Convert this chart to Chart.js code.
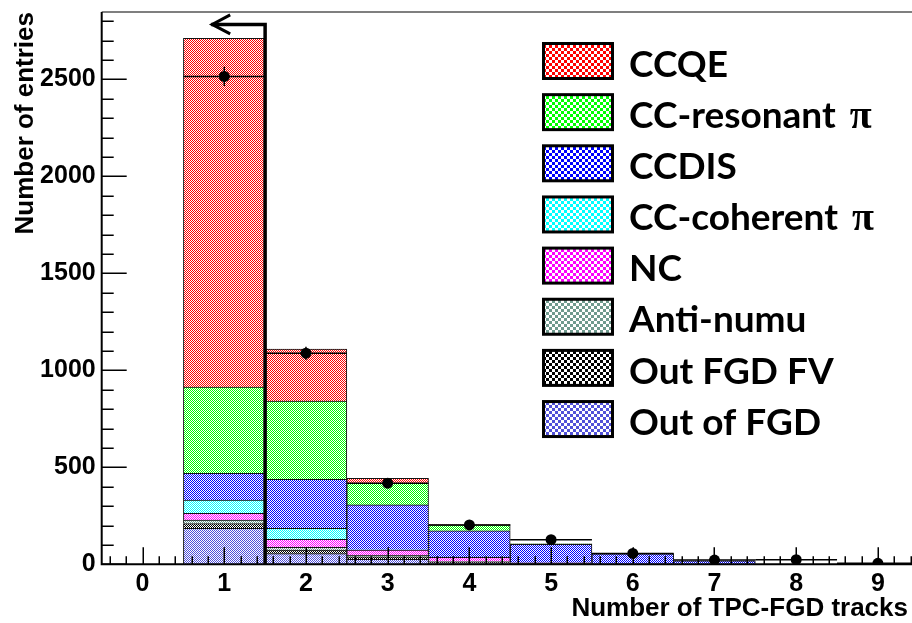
<!DOCTYPE html>
<html>
<head>
<meta charset="utf-8">
<script src="https://cdn.jsdelivr.net/npm/chart.js@4.4.1/dist/chart.umd.min.js"></script>
<style>
  html, body { margin: 0; padding: 0; background: #fff; overflow: hidden; }
  canvas { display: block; }
</style>
</head>
<body>
<canvas id="c" width="912" height="623"></canvas>
<script>
// Bin centres (number of TPC-FGD tracks)
const bins = [1, 2, 3, 4, 5, 6, 7, 8, 9];

// Stacked MC components, bottom of the stack first
const outOfFGD = [185, 55, 25, 8, 3, 1, 0, 0, 0];
const outFGDFV = [25, 18, 13, 4, 1, 0, 0, 0, 0];
const antiNumu = [18, 15, 8, 2, 0, 0, 0, 0, 0];
const ncEvents = [35, 41, 27, 22, 4, 1, 0, 0, 0];
const ccCoherent = [68, 57, 2, 1, 0, 0, 0, 0, 0];
const ccDis = [138, 252, 231, 136, 95, 52, 18, 0, 0];
const ccResonant = [445, 404, 112, 30, 2, 1, 0, 0, 0];
const ccqe = [1797, 268, 25, 2, 0, 0, 0, 0, 0];

// Data points and their errors
const dataCounts = [2515, 1088, 418, 203, 127, 56, 22, 24, 5];
const dataErrors = [50, 33, 20, 14, 11, 7, 5, 5, 2];

// Axis ticks
const xTickValues = [0, 1, 2, 3, 4, 5, 6, 7, 8, 9];
const xTickLabels = ['0', '1', '2', '3', '4', '5', '6', '7', '8', '9'];
const yTickValues = [0, 500, 1000, 1500, 2000, 2500];
const yTickLabels = ['0', '500', '1000', '1500', '2000', '2500'];

// Selection cut: keep events with one track
const cutValue = 1.5;
const cutArrowHeight = 2783;
const cutArrowEnd = 0.84;

// Legend order (top to bottom) and colours
const legendLabels = ['CCQE', 'CC-resonant \u03c0', 'CCDIS', 'CC-coherent \u03c0', 'NC', 'Anti-numu', 'Out FGD FV', 'Out of FGD'];
const legendColors = ['#ff0000', '#00ff00', '#0000ff', '#00ffff', '#ff00ff', '#6f9a8e', '#000000', '#5050d8'];

function checker(color, cell) {
  const c = document.createElement('canvas');
  c.width = c.height = cell * 2;
  const g = c.getContext('2d');
  g.fillStyle = '#ffffff';
  g.fillRect(0, 0, cell * 2, cell * 2);
  g.fillStyle = color;
  g.fillRect(0, 0, cell, cell);
  g.fillRect(cell, cell, cell, cell);
  return g.createPattern(c, 'repeat');
}

const stackSeries = [
  { label: 'Out of FGD', values: outOfFGD, color: '#5050d8' },
  { label: 'Out FGD FV', values: outFGDFV, color: '#000000' },
  { label: 'Anti-numu', values: antiNumu, color: '#6f9a8e' },
  { label: 'NC', values: ncEvents, color: '#ff00ff' },
  { label: 'CC-coherent \u03c0', values: ccCoherent, color: '#00ffff' },
  { label: 'CCDIS', values: ccDis, color: '#0000ff' },
  { label: 'CC-resonant \u03c0', values: ccResonant, color: '#00ff00' },
  { label: 'CCQE', values: ccqe, color: '#ff0000' }
];

const datasets = stackSeries.map(s => ({
  type: 'bar',
  label: s.label,
  data: bins.map((b, i) => ({ x: b, y: s.values[i] })),
  backgroundColor: checker(s.color, 1),
  borderColor: '#111',
  borderWidth: 1,
  barPercentage: 1,
  categoryPercentage: 1,
  stack: 'mc'
}));

datasets.push({
  type: 'scatter',
  label: 'Data',
  data: bins.map((b, i) => ({ x: b, y: dataCounts[i] })),
  pointRadius: 5.5,
  pointBackgroundColor: '#000',
  pointBorderWidth: 0,
  stack: 'data',
  order: -1
});

const tickFont = { family: 'Liberation Sans', weight: 'bold', size: 25 };

const overlay = {
  id: 'overlay',
  afterDatasetsDraw(chart) {
    const { ctx, chartArea: ca, scales: { x, y } } = chart;
    ctx.save();
    ctx.beginPath();
    ctx.rect(ca.left, 0, 912 - ca.left, ca.bottom + 1);
    ctx.clip();

    // error bars on the data points
    ctx.strokeStyle = '#000';
    ctx.lineWidth = 1.5;
    bins.forEach((b, i) => {
      const px = x.getPixelForValue(b);
      const py = y.getPixelForValue(dataCounts[i]);
      ctx.beginPath();
      ctx.moveTo(x.getPixelForValue(b - 0.5), py);
      ctx.lineTo(x.getPixelForValue(b + 0.5), py);
      ctx.moveTo(px, y.getPixelForValue(dataCounts[i] - dataErrors[i]));
      ctx.lineTo(px, y.getPixelForValue(dataCounts[i] + dataErrors[i]));
      ctx.stroke();
    });

    // tick marks drawn inward, over the histogram
    ctx.lineWidth = 1.5;
    ctx.beginPath();
    for (let v = 0; v <= 2800; v += 100) {
      const py = Math.round(y.getPixelForValue(v)) + 0.25;
      const len = v % 500 === 0 ? 25 : 12;
      ctx.moveTo(ca.left, py);
      ctx.lineTo(ca.left + len, py);
    }
    for (let k = -2; k <= 47; k++) {
      const v = k / 5;
      const px = Math.round(x.getPixelForValue(v)) + 0.25;
      const len = k % 5 === 0 ? 17 : 8;
      ctx.moveTo(px, ca.bottom);
      ctx.lineTo(px, ca.bottom - len);
    }
    ctx.stroke();

    // cut line with arrow
    ctx.lineWidth = 3.5;
    ctx.lineJoin = 'miter';
    const cx = x.getPixelForValue(cutValue);
    const cy = y.getPixelForValue(cutArrowHeight);
    const ax = x.getPixelForValue(cutArrowEnd);
    ctx.beginPath();
    ctx.moveTo(cx, y.getPixelForValue(0));
    ctx.lineTo(cx, cy);
    ctx.lineTo(ax, cy);
    ctx.stroke();
    ctx.lineWidth = 3;
    ctx.beginPath();
    ctx.moveTo(ax + 19, cy - 9.5);
    ctx.lineTo(ax + 1, cy);
    ctx.lineTo(ax + 19, cy + 9.5);
    ctx.stroke();
    ctx.restore();

    // frame
    ctx.save();
    ctx.strokeStyle = '#555';
    ctx.lineWidth = 1.5;
    ctx.beginPath();
    ctx.moveTo(ca.left, ca.top);
    ctx.lineTo(912, ca.top);
    ctx.stroke();
    ctx.strokeStyle = '#000';
    ctx.lineWidth = 2;
    ctx.beginPath();
    ctx.moveTo(ca.left, ca.top);
    ctx.lineTo(ca.left, ca.bottom);
    ctx.lineTo(912, ca.bottom);
    ctx.stroke();
    ctx.restore();
  },
  afterDraw(chart) {
    const { ctx } = chart;
    ctx.save();
    // axis titles
    ctx.fillStyle = '#000';
    ctx.font = 'bold 26px "Liberation Sans"';
    ctx.textAlign = 'right';
    ctx.textBaseline = 'alphabetic';
    ctx.fillText('Number of TPC-FGD tracks', 908, 616);
    ctx.save();
    ctx.translate(33, 12);
    ctx.rotate(-Math.PI / 2);
    ctx.fillText('Number of entries', 0, 0);
    ctx.restore();

    // legend
    legendLabels.forEach((lab, i) => {
      const top = 42 + i * 51.15;
      ctx.fillStyle = checker(legendColors[i], 3);
      ctx.fillRect(543, top + 1, 70, 36);
      ctx.strokeStyle = '#000';
      ctx.lineWidth = 3;
      ctx.strokeRect(543.5, top + 1.5, 69, 35);
      ctx.fillStyle = '#000';
      ctx.textAlign = 'left';
      const base = top + 34.7;
      if (lab.endsWith(' \u03c0')) {
        const head = lab.slice(0, -1);
        ctx.font = 'bold 37px Lato';
        ctx.fillText(head, 629, base);
        const w = ctx.measureText(head).width;
        ctx.font = 'bold 40px "Liberation Serif"';
        ctx.fillText('\u03c0', 629 + w + 5, base);
      } else {
        ctx.font = 'bold 37px Lato';
        ctx.fillText(lab, 629, base);
      }
    });
    ctx.restore();
  }
};

new Chart(document.getElementById('c'), {
  type: 'bar',
  data: { datasets },
  options: {
    responsive: false,
    animation: false,
    devicePixelRatio: 1,
    layout: { padding: { top: 12, left: 0, right: 0, bottom: 0 } },
    plugins: { legend: { display: false }, tooltip: { enabled: false } },
    scales: {
      x: {
        type: 'linear',
        offset: false,
        min: -0.5,
        max: 9.35,
        stacked: true,
        grid: { display: false, drawTicks: false, offset: false },
        border: { display: false },
        afterBuildTicks: s => { s.ticks = xTickValues.map(v => ({ value: v })); },
        afterFit: s => { s.height = 58.7; s.paddingLeft = 0; s.paddingRight = 0; },
        ticks: {
          autoSkip: false,
          maxRotation: 0,
          padding: 5,
          color: '#000',
          font: tickFont,
          callback: v => xTickLabels[xTickValues.indexOf(v)]
        }
      },
      y: {
        min: 0,
        max: 2847,
        stacked: true,
        grid: { display: false, drawTicks: false },
        border: { display: false },
        afterBuildTicks: s => { s.ticks = yTickValues.map(v => ({ value: v })); },
        afterFit: s => { s.width = 101.7; s.paddingTop = 0; s.paddingBottom = 0; },
        ticks: {
          padding: 6,
          color: '#000',
          font: tickFont,
          callback: v => yTickLabels[yTickValues.indexOf(v)]
        }
      }
    }
  },
  plugins: [overlay]
});
</script>
</body>
</html>
